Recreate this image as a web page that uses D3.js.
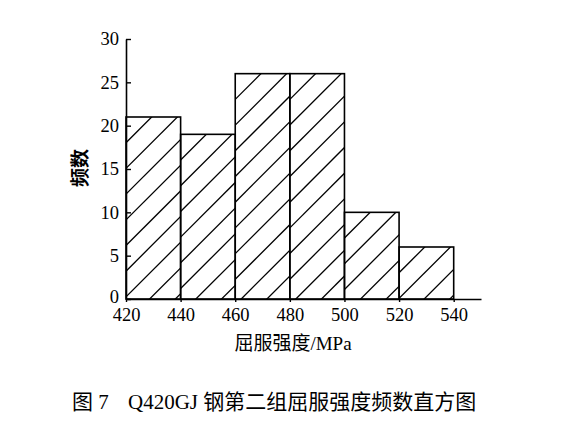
<!DOCTYPE html>
<html>
<head>
<meta charset="utf-8">
<script src="https://cdn.jsdelivr.net/npm/d3@7"></script>
<style>
  body { margin: 0; background: #fff; }
  svg { display: block; }
  text { font-family: "Liberation Serif", "Noto Sans CJK SC", serif; fill: #000; }
</style>
</head>
<body>
<div id="chart"></div>
<script>
// bins of yield strength (MPa) and counts
const binStarts = [420, 440, 460, 480, 500, 520]
const binWidth = 20
const counts = [21, 19, 26, 26, 10, 6]
const xTicks = [420, 440, 460, 480, 500, 520, 540]
const yTicks = [0, 5, 10, 15, 20, 25, 30]

const W = 572, H = 434
const x = d3.scaleLinear().domain([420, 550]).range([126, 481])
const y = d3.scaleLinear().domain([0, 30]).range([299, 39])

const svg = d3.select("#chart")
    .append("svg")
    .attr("width", W)
    .attr("height", H)
    .attr("viewBox", [0, 0, W, H])

const bars = binStarts.map((b, i) => ({
    x0: x(b), x1: x(b + binWidth), top: y(counts[i]), bottom: y(0)
}))

const defs = svg.append("defs")
defs.selectAll("clipPath")
  .data(bars)
  .join("clipPath")
  .attr("id", (d, i) => `clip${i}`)
  .append("rect")
  .attr("x", d => d.x0)
  .attr("y", d => d.top)
  .attr("width", d => d.x1 - d.x0)
  .attr("height", d => d.bottom - d.top)

// hatch lines, anchored at each bar's top-left corner
const step = 25.7
const g = svg.append("g")
bars.forEach((d, i) => {
    const w = d.x1 - d.x0, h = d.bottom - d.top
    const n = Math.ceil((w + h) / step)
    const hg = g.append("g").attr("clip-path", `url(#clip${i})`)
    hg.selectAll("line")
      .data(d3.range(1, n + 1))
      .join("line")
      .attr("x1", d.x0)
      .attr("y1", k => d.top + k * step)
      .attr("x2", k => d.x0 + w + h)
      .attr("y2", k => d.top + k * step - (w + h))
      .attr("stroke", "#000")
      .attr("stroke-width", 1.3)
})

g.selectAll("rect.bar")
  .data(bars)
  .join("rect")
  .attr("class", "bar")
  .attr("x", d => d.x0)
  .attr("y", d => d.top)
  .attr("width", d => d.x1 - d.x0)
  .attr("height", d => d.bottom - d.top)
  .attr("fill", "none")
  .attr("stroke", "#000")
  .attr("stroke-width", 1.6)

// axes
const xAxis = svg.append("g")
    .attr("transform", `translate(0,${y(0)})`)
    .call(d3.axisBottom(x).tickValues(xTicks).tickSize(3).tickPadding(6).tickSizeOuter(0))
const yAxis = svg.append("g")
    .attr("transform", `translate(${x(420)},0)`)
    .call(d3.axisLeft(y).tickValues(yTicks).tickSize(-5).tickPadding(7).tickSizeOuter(0))

;[xAxis, yAxis].forEach(a => {
    a.select(".domain").attr("stroke", "#000").attr("stroke-width", 1.6)
    a.selectAll(".tick line").attr("stroke", "#000").attr("stroke-width", 1.4)
    a.selectAll(".tick text")
      .attr("fill", "#000")
      .style("font-family", '"Liberation Serif", serif')
      .style("font-size", "18.5px")
})
// lift the "0" label a little so it clears "420"
yAxis.selectAll(".tick text").filter(d => d === 0).attr("dy", "0.2em")

svg.append("text")
    .attr("transform", "translate(87,168) rotate(-90)")
    .attr("text-anchor", "middle")
    .style("font-family", '"Noto Sans CJK SC", sans-serif')
    .style("font-weight", "bold")
    .style("font-size", "19px")
    .text("频数")

svg.append("text")
    .attr("x", 293)
    .attr("y", 350)
    .attr("text-anchor", "middle")
    .style("font-size", "19px")
    .text("屈服强度/MPa")

const cap = svg.append("text")
    .attr("y", 409)
    .style("font-size", "21px")
cap.append("tspan").attr("x", 72).text("图 7")
cap.append("tspan").attr("x", 128).text("Q420GJ 钢第二组屈服强度频数直方图")
</script>
</body>
</html>
